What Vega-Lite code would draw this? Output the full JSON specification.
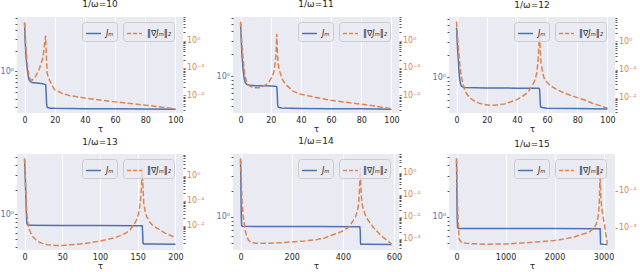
{
"$schema": "https://vega.github.io/schema/vega-lite/v6.json",
"background": "white",
"padding": {"left": 0, "top": 0, "right": 0, "bottom": 0},
"datasets": {
"j1": [{"t":0,"v":5.2},{"t":0.5,"v":2.5},{"t":1,"v":1.6},{"t":1.5,"v":1.2},{"t":2,"v":1.0},{"t":2.5,"v":0.85},{"t":3,"v":0.76},{"t":4,"v":0.71},{"t":5,"v":0.69},{"t":8,"v":0.68},{"t":11,"v":0.67},{"t":13,"v":0.655},{"t":14,"v":0.64},{"t":14.3,"v":0.5},{"t":14.6,"v":0.34},{"t":15,"v":0.3},{"t":17,"v":0.292},{"t":20,"v":0.29},{"t":40,"v":0.287},{"t":60,"v":0.285},{"t":80,"v":0.283},{"t":100,"v":0.282}],
"g1": [{"t":0,"v":4.5},{"t":0.5,"v":1.5},{"t":1,"v":0.44},{"t":1.5,"v":0.2},{"t":2,"v":0.11},{"t":3,"v":0.05},{"t":4,"v":0.037},{"t":5,"v":0.036},{"t":6,"v":0.04},{"t":7,"v":0.047},{"t":8,"v":0.058},{"t":9,"v":0.074},{"t":10,"v":0.1},{"t":11,"v":0.147},{"t":12,"v":0.22},{"t":12.5,"v":0.33},{"t":13,"v":0.55},{"t":13.5,"v":1.0},{"t":14,"v":1.5},{"t":14.3,"v":0.5},{"t":14.6,"v":0.19},{"t":15,"v":0.064},{"t":16,"v":0.042},{"t":17,"v":0.032},{"t":18,"v":0.024},{"t":20,"v":0.016},{"t":25,"v":0.0118},{"t":30,"v":0.0098},{"t":40,"v":0.008},{"t":50,"v":0.0068},{"t":60,"v":0.0058},{"t":70,"v":0.0051},{"t":80,"v":0.0044},{"t":90,"v":0.0038},{"t":100,"v":0.0032}],
"j2": [{"t":0,"v":5.2},{"t":0.5,"v":3.0},{"t":1,"v":1.82},{"t":1.5,"v":1.35},{"t":2,"v":1.1},{"t":2.5,"v":0.93},{"t":3,"v":0.84},{"t":4,"v":0.79},{"t":5,"v":0.77},{"t":10,"v":0.755},{"t":15,"v":0.75},{"t":20,"v":0.745},{"t":23,"v":0.74},{"t":24,"v":0.73},{"t":24.3,"v":0.6},{"t":24.6,"v":0.42},{"t":25,"v":0.39},{"t":27,"v":0.38},{"t":40,"v":0.375},{"t":60,"v":0.372},{"t":80,"v":0.37},{"t":100,"v":0.367}],
"g2": [{"t":0,"v":4.9},{"t":0.5,"v":1.7},{"t":1,"v":0.58},{"t":1.5,"v":0.28},{"t":2,"v":0.147},{"t":2.5,"v":0.08},{"t":3,"v":0.049},{"t":4,"v":0.032},{"t":5,"v":0.025},{"t":6,"v":0.022},{"t":8,"v":0.02},{"t":10,"v":0.019},{"t":12,"v":0.019},{"t":14,"v":0.02},{"t":16,"v":0.023},{"t":18,"v":0.028},{"t":19,"v":0.032},{"t":20,"v":0.039},{"t":21,"v":0.049},{"t":22,"v":0.07},{"t":22.5,"v":0.098},{"t":23,"v":0.16},{"t":23.5,"v":0.33},{"t":24,"v":1.73},{"t":24.3,"v":0.6},{"t":24.6,"v":0.25},{"t":25,"v":0.128},{"t":26,"v":0.075},{"t":27,"v":0.049},{"t":28,"v":0.036},{"t":30,"v":0.025},{"t":35,"v":0.014},{"t":40,"v":0.011},{"t":50,"v":0.0084},{"t":60,"v":0.0066},{"t":70,"v":0.0056},{"t":80,"v":0.0048},{"t":90,"v":0.004},{"t":100,"v":0.0032}],
"j3": [{"t":0,"v":4.6},{"t":0.5,"v":2.8},{"t":1,"v":1.88},{"t":1.5,"v":1.3},{"t":2,"v":0.98},{"t":2.5,"v":0.85},{"t":3,"v":0.78},{"t":4,"v":0.75},{"t":5,"v":0.735},{"t":20,"v":0.725},{"t":40,"v":0.72},{"t":54.5,"v":0.715},{"t":55,"v":0.7},{"t":55.3,"v":0.55},{"t":55.6,"v":0.42},{"t":56,"v":0.4},{"t":60,"v":0.39},{"t":80,"v":0.385},{"t":100,"v":0.38}],
"g3": [{"t":0,"v":5.1},{"t":0.5,"v":2.0},{"t":1,"v":0.83},{"t":1.5,"v":0.4},{"t":2,"v":0.19},{"t":3,"v":0.065},{"t":4,"v":0.035},{"t":5,"v":0.022},{"t":6,"v":0.016},{"t":8,"v":0.011},{"t":10,"v":0.0088},{"t":12,"v":0.0075},{"t":15,"v":0.0064},{"t":18,"v":0.0057},{"t":22,"v":0.0054},{"t":25,"v":0.0054},{"t":28,"v":0.0056},{"t":32,"v":0.006},{"t":36,"v":0.0071},{"t":40,"v":0.0085},{"t":43,"v":0.0105},{"t":46,"v":0.0138},{"t":48,"v":0.018},{"t":50,"v":0.025},{"t":52,"v":0.043},{"t":53,"v":0.07},{"t":53.5,"v":0.11},{"t":54,"v":0.2},{"t":54.5,"v":0.63},{"t":55,"v":2.1},{"t":55.3,"v":0.8},{"t":55.6,"v":0.35},{"t":56,"v":0.19},{"t":57,"v":0.08},{"t":58,"v":0.05},{"t":60,"v":0.035},{"t":62,"v":0.027},{"t":66,"v":0.02},{"t":70,"v":0.0158},{"t":75,"v":0.0125},{"t":80,"v":0.01},{"t":85,"v":0.0082},{"t":90,"v":0.0063},{"t":95,"v":0.0052},{"t":100,"v":0.0042}],
"j4": [{"t":0,"v":4.7},{"t":0.5,"v":3.6},{"t":1,"v":2.77},{"t":1.5,"v":1.9},{"t":2,"v":1.35},{"t":2.5,"v":0.95},{"t":3,"v":0.78},{"t":4,"v":0.745},{"t":5,"v":0.738},{"t":50,"v":0.735},{"t":100,"v":0.733},{"t":150,"v":0.73},{"t":156,"v":0.728},{"t":156.5,"v":0.6},{"t":157,"v":0.45},{"t":158,"v":0.44},{"t":170,"v":0.438},{"t":200,"v":0.436}],
"g4": [{"t":0,"v":5.1},{"t":0.5,"v":2.0},{"t":1,"v":0.81},{"t":1.5,"v":0.33},{"t":2,"v":0.137},{"t":3,"v":0.031},{"t":4,"v":0.016},{"t":5,"v":0.01},{"t":7,"v":0.0062},{"t":10,"v":0.0039},{"t":15,"v":0.0027},{"t":20,"v":0.0021},{"t":30,"v":0.0017},{"t":40,"v":0.0016},{"t":50,"v":0.0016},{"t":60,"v":0.0017},{"t":80,"v":0.0019},{"t":100,"v":0.0024},{"t":110,"v":0.0028},{"t":120,"v":0.0033},{"t":130,"v":0.0043},{"t":135,"v":0.0052},{"t":140,"v":0.0068},{"t":145,"v":0.011},{"t":148,"v":0.016},{"t":150,"v":0.023},{"t":152,"v":0.04},{"t":153,"v":0.075},{"t":154,"v":0.14},{"t":155,"v":0.33},{"t":156,"v":2.0},{"t":156.5,"v":0.6},{"t":157,"v":0.33},{"t":158,"v":0.075},{"t":160,"v":0.035},{"t":162,"v":0.023},{"t":166,"v":0.014},{"t":170,"v":0.01},{"t":178,"v":0.0072},{"t":185,"v":0.0052},{"t":192,"v":0.0042},{"t":200,"v":0.0033}],
"j5": [{"t":0,"v":4.8},{"t":1,"v":3.0},{"t":2,"v":1.6},{"t":3,"v":1.0},{"t":4,"v":0.82},{"t":5,"v":0.78},{"t":8,"v":0.775},{"t":100,"v":0.772},{"t":300,"v":0.77},{"t":466,"v":0.768},{"t":468,"v":0.7},{"t":469,"v":0.5},{"t":470,"v":0.48},{"t":500,"v":0.478},{"t":590,"v":0.477}],
"g5": [{"t":0,"v":4.2},{"t":2,"v":1.0},{"t":4,"v":0.2},{"t":6,"v":0.05},{"t":10,"v":0.012},{"t":15,"v":0.0045},{"t":20,"v":0.0019},{"t":30,"v":0.0009},{"t":40,"v":0.00068},{"t":60,"v":0.00063},{"t":100,"v":0.00063},{"t":150,"v":0.00066},{"t":200,"v":0.00072},{"t":250,"v":0.0008},{"t":300,"v":0.00093},{"t":330,"v":0.0011},{"t":350,"v":0.0014},{"t":380,"v":0.0018},{"t":400,"v":0.0023},{"t":420,"v":0.0032},{"t":430,"v":0.0045},{"t":440,"v":0.0065},{"t":450,"v":0.0103},{"t":455,"v":0.016},{"t":460,"v":0.028},{"t":463,"v":0.06},{"t":465,"v":0.21},{"t":468,"v":1.8},{"t":470,"v":0.3},{"t":472,"v":0.1},{"t":475,"v":0.039},{"t":480,"v":0.022},{"t":490,"v":0.0103},{"t":505,"v":0.0055},{"t":520,"v":0.0032},{"t":535,"v":0.0021},{"t":550,"v":0.0014},{"t":570,"v":0.0009},{"t":590,"v":0.0006}],
"j6": [{"t":0,"v":4.8},{"t":5,"v":2.5},{"t":10,"v":1.3},{"t":15,"v":0.9},{"t":20,"v":0.77},{"t":30,"v":0.735},{"t":50,"v":0.73},{"t":1000,"v":0.73},{"t":2000,"v":0.73},{"t":2930,"v":0.728},{"t":2935,"v":0.6},{"t":2940,"v":0.48},{"t":3000,"v":0.478},{"t":3080,"v":0.477}],
"g6": [{"t":0,"v":5.5},{"t":10,"v":0.3},{"t":20,"v":0.02},{"t":35,"v":0.0015},{"t":50,"v":0.00025},{"t":100,"v":0.000155},{"t":200,"v":0.00014},{"t":300,"v":0.000135},{"t":600,"v":0.000126},{"t":1000,"v":0.000128},{"t":1500,"v":0.000155},{"t":2000,"v":0.0002},{"t":2200,"v":0.00024},{"t":2400,"v":0.00031},{"t":2550,"v":0.00042},{"t":2700,"v":0.00055},{"t":2800,"v":0.0009},{"t":2850,"v":0.0015},{"t":2880,"v":0.003},{"t":2900,"v":0.006},{"t":2915,"v":0.03},{"t":2925,"v":0.3},{"t":2930,"v":2.0},{"t":2935,"v":0.3},{"t":2945,"v":0.05},{"t":2960,"v":0.014},{"t":2980,"v":0.006},{"t":3000,"v":0.0028},{"t":3020,"v":0.0014},{"t":3040,"v":0.00055},{"t":3060,"v":0.00025},{"t":3080,"v":0.000135}]
},
"config": {
"font": "DejaVu Sans",
"view": {"fill": "#EAEAF2", "stroke": null},
"title": {"fontSize": 9, "fontWeight": "normal", "color": "#262626", "offset": 0, "font": "DejaVu Sans", "frame": "group"},
"axis": {"gridColor": "white", "gridWidth": 1, "domain": false, "labelFont": "DejaVu Sans", "labelFontSize": 8, "titleFont": "DejaVu Sans", "titleFontSize": 9, "titleFontWeight": "normal", "titleColor": "#262626", "labelColor": "#262626", "labelOverlap": false},
"axisBottom": {"ticks": false, "labelPadding": 3, "titlePadding": 0, "labelFlush": false, "format": "d"},
"axisLeft": {"labelColor": "#4C72B0", "labelPadding": 1, "labelBound": false, "labelFontSize": 8,
  "tickColor": {"condition": {"test": "abs(log(datum.value)/LN10 - round(log(datum.value)/LN10)) < 0.001", "value": "#4C72B0"}, "value": "#555555"},
  "tickSize": {"condition": {"test": "abs(log(datum.value)/LN10 - round(log(datum.value)/LN10)) < 0.001", "value": 2.5}, "value": 2},
  "gridOpacity": {"condition": {"test": "abs(log(datum.value)/LN10 - round(log(datum.value)/LN10)) < 0.001", "value": 1}, "value": 0},
  "labelExpr": "datum.value==1?'10⁰':datum.value==0.1?'10⁻¹':datum.value==0.01?'10⁻²':datum.value==0.001?'10⁻³':''"},
"axisRight": {"labelColor": "#DD8452", "labelPadding": 1, "labelBound": false, "labelFontSize": 8,
  "tickColor": {"condition": {"test": "abs(log(datum.value)/LN10 - round(log(datum.value)/LN10)) < 0.001", "value": "#DD8452"}, "value": "#555555"},
  "tickSize": {"condition": {"test": "abs(log(datum.value)/LN10 - round(log(datum.value)/LN10)) < 0.001", "value": 2.5}, "value": 2},
  "gridOpacity": {"condition": {"test": "abs(log(datum.value)/LN10 - round(log(datum.value)/LN10)) < 0.001", "value": 1}, "value": 0},
  "labelExpr": "datum.value==1?'10⁰':datum.value==0.1?'10⁻¹':datum.value==0.01?'10⁻²':datum.value==0.001?'10⁻³':''"},
"legend": {"symbolType": "stroke", "symbolSize": 220, "symbolStrokeWidth": 1.5, "labelFont": "DejaVu Sans", "labelFontSize": 8, "labelFontStyle": "italic", "labelColor": "#262626", "padding": 3, "fillColor": "rgba(234,234,242,0.8)", "strokeColor": "#CCCCCC", "cornerRadius": 3, "labelOffset": 4}
},
"columns": 3,
"spacing": {"row": 41, "column": 50},
"bounds": "flush",
"concat": [
{"width": 166, "height": 96, "title": "1/ω=10",
 "layer": [
 {"data": {"name": "j1"}, "mark": {"type": "line", "strokeWidth": 1.5},
  "encoding": {
   "x": {"field": "t", "type": "quantitative", "scale": {"domain": [-5, 105], "nice": false, "zero": false}, "axis": {"values": [0,20,40,60,80,100], "title": "τ"}},
   "y": {"field": "v", "type": "quantitative", "scale": {"type": "log", "domain": [0.248, 6.24], "nice": false}, "axis": {"orient": "left", "title": null, "values": [0.3,0.4,0.5,0.6,0.7,0.8,0.9,1,2,3,4,5,6]}},
   "color": {"datum": "Jₘ", "scale": {"range": ["#4C72B0"]}, "legend": {"title": null, "orient": "none", "legendX": 65, "legendY": 5}}}},
 {"data": {"name": "g1"}, "mark": {"type": "line", "strokeWidth": 1.5, "strokeDash": [5.5, 2.4]},
  "encoding": {
   "x": {"field": "t", "type": "quantitative", "scale": {"domain": [-5, 105], "nice": false, "zero": false}, "axis": {"values": [0,20,40,60,80,100], "title": "τ"}},
   "y": {"field": "v", "type": "quantitative", "scale": {"type": "log", "domain": [0.00228, 7.2], "nice": false}, "axis": {"orient": "right", "title": null, "values": [0.003,0.004,0.005,0.006,0.007,0.008,0.009,0.01,0.02,0.03,0.04,0.05,0.06,0.07,0.08,0.09,0.1,0.2,0.3,0.4,0.5,0.6,0.7,0.8,0.9,1,2,3,4,5,6,7]}},
   "color": {"datum": "‖∇Jₘ‖₂", "scale": {"range": ["#DD8452"]}, "legend": {"title": null, "orient": "none", "legendX": 106, "legendY": 5, "symbolDash": [4, 2]}}}}
 ],
 "resolve": {"scale": {"y": "independent", "color": "independent"}}},
{"width": 166, "height": 96, "title": "1/ω=11",
 "layer": [
 {"data": {"name": "j2"}, "mark": {"type": "line", "strokeWidth": 1.5},
  "encoding": {
   "x": {"field": "t", "type": "quantitative", "scale": {"domain": [-5, 105], "nice": false, "zero": false}, "axis": {"values": [0,20,40,60,80,100], "title": "τ"}},
   "y": {"field": "v", "type": "quantitative", "scale": {"type": "log", "domain": [0.326, 6.2], "nice": false}, "axis": {"orient": "left", "title": null, "values": [0.4,0.5,0.6,0.7,0.8,0.9,1,2,3,4,5,6]}},
   "color": {"datum": "Jₘ", "scale": {"range": ["#4C72B0"]}, "legend": {"title": null, "orient": "none", "legendX": 65, "legendY": 5}}}},
 {"data": {"name": "g2"}, "mark": {"type": "line", "strokeWidth": 1.5, "strokeDash": [5.5, 2.4]},
  "encoding": {
   "x": {"field": "t", "type": "quantitative", "scale": {"domain": [-5, 105], "nice": false, "zero": false}, "axis": {"values": [0,20,40,60,80,100], "title": "τ"}},
   "y": {"field": "v", "type": "quantitative", "scale": {"type": "log", "domain": [0.00228, 7.2], "nice": false}, "axis": {"orient": "right", "title": null, "values": [0.003,0.004,0.005,0.006,0.007,0.008,0.009,0.01,0.02,0.03,0.04,0.05,0.06,0.07,0.08,0.09,0.1,0.2,0.3,0.4,0.5,0.6,0.7,0.8,0.9,1,2,3,4,5,6,7]}},
   "color": {"datum": "‖∇Jₘ‖₂", "scale": {"range": ["#DD8452"]}, "legend": {"title": null, "orient": "none", "legendX": 106, "legendY": 5, "symbolDash": [4, 2]}}}}
 ],
 "resolve": {"scale": {"y": "independent", "color": "independent"}}},
{"width": 166, "height": 96, "title": "1/ω=12",
 "layer": [
 {"data": {"name": "j3"}, "mark": {"type": "line", "strokeWidth": 1.5},
  "encoding": {
   "x": {"field": "t", "type": "quantitative", "scale": {"domain": [-5, 105], "nice": false, "zero": false}, "axis": {"values": [0,20,40,60,80,100], "title": "τ"}},
   "y": {"field": "v", "type": "quantitative", "scale": {"type": "log", "domain": [0.336, 6.37], "nice": false}, "axis": {"orient": "left", "title": null, "values": [0.4,0.5,0.6,0.7,0.8,0.9,1,2,3,4,5,6]}},
   "color": {"datum": "Jₘ", "scale": {"range": ["#4C72B0"]}, "legend": {"title": null, "orient": "none", "legendX": 65, "legendY": 5}}}},
 {"data": {"name": "g3"}, "mark": {"type": "line", "strokeWidth": 1.5, "strokeDash": [5.5, 2.4]},
  "encoding": {
   "x": {"field": "t", "type": "quantitative", "scale": {"domain": [-5, 105], "nice": false, "zero": false}, "axis": {"values": [0,20,40,60,80,100], "title": "τ"}},
   "y": {"field": "v", "type": "quantitative", "scale": {"type": "log", "domain": [0.00284, 7.45], "nice": false}, "axis": {"orient": "right", "title": null, "values": [0.003,0.004,0.005,0.006,0.007,0.008,0.009,0.01,0.02,0.03,0.04,0.05,0.06,0.07,0.08,0.09,0.1,0.2,0.3,0.4,0.5,0.6,0.7,0.8,0.9,1,2,3,4,5,6,7]}},
   "color": {"datum": "‖∇Jₘ‖₂", "scale": {"range": ["#DD8452"]}, "legend": {"title": null, "orient": "none", "legendX": 106, "legendY": 5, "symbolDash": [4, 2]}}}}
 ],
 "resolve": {"scale": {"y": "independent", "color": "independent"}}},
{"width": 166, "height": 96, "title": "1/ω=13",
 "layer": [
 {"data": {"name": "j4"}, "mark": {"type": "line", "strokeWidth": 1.5},
  "encoding": {
   "x": {"field": "t", "type": "quantitative", "scale": {"domain": [-10, 210], "nice": false, "zero": false}, "axis": {"values": [0,50,100,150,200], "title": "τ"}},
   "y": {"field": "v", "type": "quantitative", "scale": {"type": "log", "domain": [0.371, 5.4], "nice": false}, "axis": {"orient": "left", "title": null, "values": [0.4,0.5,0.6,0.7,0.8,0.9,1,2,3,4,5]}},
   "color": {"datum": "Jₘ", "scale": {"range": ["#4C72B0"]}, "legend": {"title": null, "orient": "none", "legendX": 65, "legendY": 5}}}},
 {"data": {"name": "g4"}, "mark": {"type": "line", "strokeWidth": 1.5, "strokeDash": [5.5, 2.4]},
  "encoding": {
   "x": {"field": "t", "type": "quantitative", "scale": {"domain": [-10, 210], "nice": false, "zero": false}, "axis": {"values": [0,50,100,150,200], "title": "τ"}},
   "y": {"field": "v", "type": "quantitative", "scale": {"type": "log", "domain": [0.00105, 7.5], "nice": false}, "axis": {"orient": "right", "title": null, "values": [0.002,0.003,0.004,0.005,0.006,0.007,0.008,0.009,0.01,0.02,0.03,0.04,0.05,0.06,0.07,0.08,0.09,0.1,0.2,0.3,0.4,0.5,0.6,0.7,0.8,0.9,1,2,3,4,5,6,7]}},
   "color": {"datum": "‖∇Jₘ‖₂", "scale": {"range": ["#DD8452"]}, "legend": {"title": null, "orient": "none", "legendX": 106, "legendY": 5, "symbolDash": [4, 2]}}}}
 ],
 "resolve": {"scale": {"y": "independent", "color": "independent"}}},
{"width": 166, "height": 96, "title": "1/ω=14",
 "layer": [
 {"data": {"name": "j5"}, "mark": {"type": "line", "strokeWidth": 1.5},
  "encoding": {
   "x": {"field": "t", "type": "quantitative", "scale": {"domain": [-29.5, 619.5], "nice": false, "zero": false}, "axis": {"values": [0,200,400,600], "title": "τ"}},
   "y": {"field": "v", "type": "quantitative", "scale": {"type": "log", "domain": [0.41, 5.43], "nice": false}, "axis": {"orient": "left", "title": null, "values": [0.5,0.6,0.7,0.8,0.9,1,2,3,4,5]}},
   "color": {"datum": "Jₘ", "scale": {"range": ["#4C72B0"]}, "legend": {"title": null, "orient": "none", "legendX": 65, "legendY": 5}}}},
 {"data": {"name": "g5"}, "mark": {"type": "line", "strokeWidth": 1.5, "strokeDash": [5.5, 2.4]},
  "encoding": {
   "x": {"field": "t", "type": "quantitative", "scale": {"domain": [-29.5, 619.5], "nice": false, "zero": false}, "axis": {"values": [0,200,400,600], "title": "τ"}},
   "y": {"field": "v", "type": "quantitative", "scale": {"type": "log", "domain": [0.000311, 7.2], "nice": false}, "axis": {"orient": "right", "title": null, "values": [0.0004,0.0005,0.0006,0.0007,0.0008,0.0009,0.001,0.002,0.003,0.004,0.005,0.006,0.007,0.008,0.009,0.01,0.02,0.03,0.04,0.05,0.06,0.07,0.08,0.09,0.1,0.2,0.3,0.4,0.5,0.6,0.7,0.8,0.9,1,2,3,4,5,6,7]}},
   "color": {"datum": "‖∇Jₘ‖₂", "scale": {"range": ["#DD8452"]}, "legend": {"title": null, "orient": "none", "legendX": 106, "legendY": 5, "symbolDash": [4, 2]}}}}
 ],
 "resolve": {"scale": {"y": "independent", "color": "independent"}}},
{"width": 166, "height": 96, "title": "1/ω=15",
 "layer": [
 {"data": {"name": "j6"}, "mark": {"type": "line", "strokeWidth": 1.5},
  "encoding": {
   "x": {"field": "t", "type": "quantitative", "scale": {"domain": [-154, 3234], "nice": false, "zero": false}, "axis": {"values": [0,1000,2000,3000], "title": "τ"}},
   "y": {"field": "v", "type": "quantitative", "scale": {"type": "log", "domain": [0.41, 5.43], "nice": false}, "axis": {"orient": "left", "title": null, "values": [0.5,0.6,0.7,0.8,0.9,1,2,3,4,5]}},
   "color": {"datum": "Jₘ", "scale": {"range": ["#4C72B0"]}, "legend": {"title": null, "orient": "none", "legendX": 65, "legendY": 5}}}},
 {"data": {"name": "g6"}, "mark": {"type": "line", "strokeWidth": 1.5, "strokeDash": [5.5, 2.4]},
  "encoding": {
   "x": {"field": "t", "type": "quantitative", "scale": {"domain": [-154, 3234], "nice": false, "zero": false}, "axis": {"values": [0,1000,2000,3000], "title": "τ"}},
   "y": {"field": "v", "type": "quantitative", "scale": {"type": "log", "domain": [0.0000607, 10], "nice": false}, "axis": {"orient": "right", "title": null, "values": [0.001, 0.1]}},
   "color": {"datum": "‖∇Jₘ‖₂", "scale": {"range": ["#DD8452"]}, "legend": {"title": null, "orient": "none", "legendX": 106, "legendY": 5, "symbolDash": [4, 2]}}}}
 ],
 "resolve": {"scale": {"y": "independent", "color": "independent"}}}
]
}
